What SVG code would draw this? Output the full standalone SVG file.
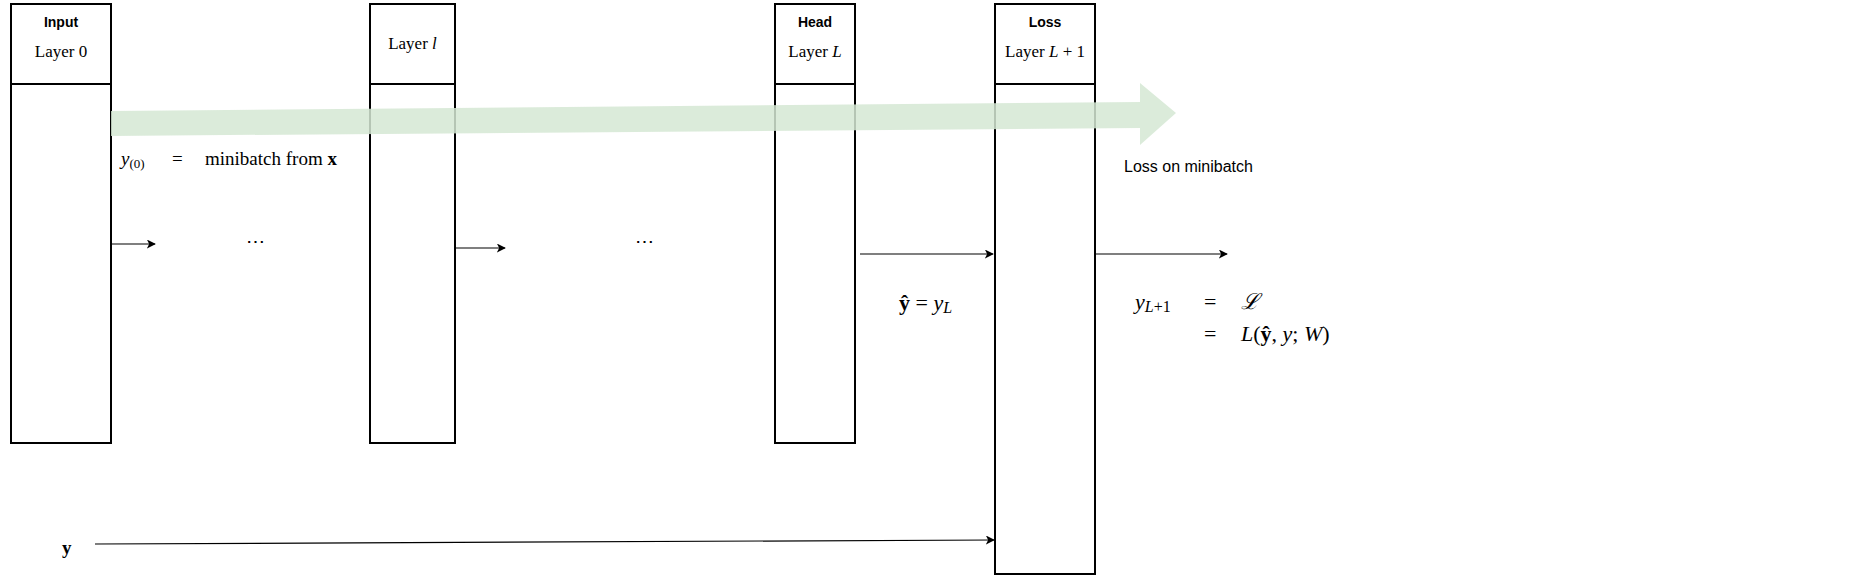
<svg xmlns="http://www.w3.org/2000/svg" width="1868" height="576" viewBox="0 0 1868 576">
<style>
.box{fill:#fff;stroke:#000;stroke-width:2}
.hd{font-family:"Liberation Sans",Arial,sans-serif;font-weight:bold;font-size:14px;text-anchor:middle;fill:#000}
.lay{font-family:"Liberation Serif","Times New Roman",serif;font-size:17px;text-anchor:middle;fill:#000}
.eq{font-family:"Liberation Serif","DejaVu Serif","Times New Roman",serif;font-size:19px;fill:#000}
.eq2{font-family:"Liberation Serif","DejaVu Serif","Times New Roman",serif;font-size:22px;fill:#000}
.lbl{font-family:"Liberation Sans",Arial,sans-serif;font-size:16px;fill:#000}
.conn{stroke:#000;stroke-width:1.2;fill:none;marker-end:url(#ah)}
</style>
<defs>
<marker id="ah" viewBox="0 0 10 10" refX="9" refY="5" markerWidth="9" markerHeight="9" markerUnits="userSpaceOnUse" orient="auto">
<path d="M0,0 L10,5 L0,10 L2.5,5 Z" fill="#000"/>
</marker>
</defs>
<rect width="1868" height="576" fill="#fff"/>

<g id="input">
<rect class="box" x="11" y="4" width="100" height="439"/>
<line x1="11" y1="84" x2="111" y2="84" stroke="#000" stroke-width="2"/>
<text class="hd" x="61" y="27">Input</text>
<text class="lay" x="61" y="57">Layer 0</text>
</g>

<g id="layer-l">
<rect class="box" x="370" y="4" width="85" height="439"/>
<line x1="370" y1="84" x2="455" y2="84" stroke="#000" stroke-width="2"/>
<text class="lay" x="412.5" y="49">Layer <tspan font-style="italic">l</tspan></text>
</g>

<g id="head">
<rect class="box" x="775" y="4" width="80" height="439"/>
<line x1="775" y1="84" x2="855" y2="84" stroke="#000" stroke-width="2"/>
<text class="hd" x="815" y="27">Head</text>
<text class="lay" x="815" y="57">Layer <tspan font-style="italic">L</tspan></text>
</g>

<g id="loss">
<rect class="box" x="995" y="4" width="100" height="570"/>
<line x1="995" y1="84" x2="1095" y2="84" stroke="#000" stroke-width="2"/>
<text class="hd" x="1045" y="27">Loss</text>
<text class="lay" x="1045" y="57">Layer <tspan font-style="italic">L</tspan> + 1</text>
</g>

<g id="connectors">
<line class="conn" x1="111" y1="244" x2="155" y2="244"/>
<line class="conn" x1="455" y1="248" x2="505" y2="248"/>
<line class="conn" x1="860" y1="254" x2="993" y2="254"/>
<line class="conn" x1="1095" y1="254" x2="1227" y2="254"/>
<line class="conn" x1="95" y1="544" x2="994" y2="540"/>
</g>

<g id="flow-arrow">
<polygon points="111,111 1140,102 1140,83 1176,113 1140,145 1140,128 111,136" fill="#d5e8d4" fill-opacity="0.85"/>
</g>

<g id="labels">
<text class="eq" x="121" y="165"><tspan font-style="italic">y</tspan><tspan font-size="13" dy="3">(0)</tspan></text>
<text class="eq" x="172" y="165">=</text>
<text class="eq" x="205" y="165">minibatch from <tspan font-weight="bold">x</tspan></text>

<text class="eq" x="255" y="248" text-anchor="middle">⋯</text>
<text class="eq" x="644" y="248" text-anchor="middle">⋯</text>

<text class="eq2" x="899" y="310"><tspan font-weight="bold">ŷ</tspan> = <tspan font-style="italic">y</tspan><tspan font-style="italic" font-size="16" dy="3">L</tspan></text>

<text class="eq2" x="1135" y="309"><tspan font-style="italic">y</tspan><tspan font-size="16" dy="3"><tspan font-style="italic">L</tspan>+1</tspan></text>
<text class="eq2" x="1204" y="309">=</text>
<text class="eq2" x="1241" y="309" font-style="italic">ℒ</text>
<text class="eq2" x="1204" y="341">=</text>
<text class="eq2" x="1241" y="341"><tspan font-style="italic">L</tspan>(<tspan font-weight="bold">ŷ</tspan>, <tspan font-style="italic">y</tspan>; <tspan font-style="italic">W</tspan>)</text>

<text class="lbl" x="1124" y="172">Loss on minibatch</text>

<text class="eq" x="62" y="554" font-weight="bold" font-size="24">y</text>
</g>
</svg>
